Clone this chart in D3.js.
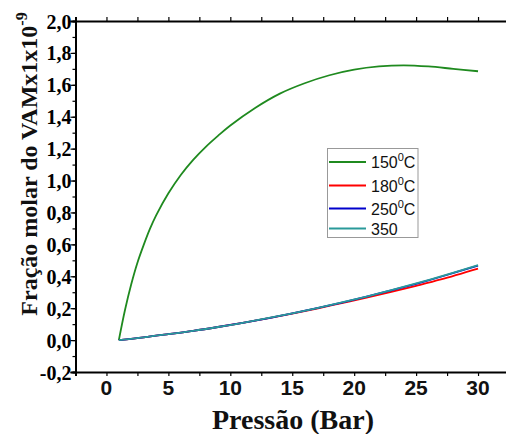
<!DOCTYPE html>
<html><head><meta charset="utf-8">
<script src="https://cdn.jsdelivr.net/npm/d3@7"></script>
<style>body{margin:0;background:#fff}</style>
</head><body>
<svg id="c" width="506" height="434"></svg>
<script>
const xTicks = [0, 5, 10, 15, 20, 25, 30];
const yTicks = [-0.2, 0.0, 0.2, 0.4, 0.6, 0.8, 1.0, 1.2, 1.4, 1.6, 1.8, 2.0];

const xGreen = [1, 1.5, 2, 2.5, 3, 3.5, 4, 5, 6, 7, 8, 9, 10, 12, 14, 16, 18, 20, 22, 24, 26, 28, 30];
const yGreen = [0, 0.19, 0.35, 0.485, 0.595, 0.695, 0.78, 0.92, 1.035, 1.13, 1.21, 1.28, 1.345, 1.455, 1.545, 1.61, 1.66, 1.695, 1.715, 1.722, 1.715, 1.70, 1.685];

const xLow = [1, 3, 5, 7, 9, 11, 13, 15, 17, 19, 21, 23, 25, 27, 30];
const yRed  = [0, 0.017, 0.037, 0.058, 0.082, 0.108, 0.136, 0.166, 0.198, 0.232, 0.266, 0.302, 0.340, 0.380, 0.448];
const yBlue = [0, 0.017, 0.037, 0.058, 0.082, 0.108, 0.136, 0.167, 0.200, 0.235, 0.272, 0.312, 0.353, 0.397, 0.467];
const yTeal = [0, 0.017, 0.037, 0.058, 0.082, 0.108, 0.137, 0.168, 0.201, 0.236, 0.273, 0.313, 0.355, 0.399, 0.470];

const seriesNames = ["150", "180", "250", "350"];
const seriesUnits = ["C", "C", "C", ""];
const colors = ["#1f8a1f", "#ff0000", "#0000cc", "#2a9a9a"];

const svg = d3.select("#c");
const x = d3.scaleLinear().domain([-2.5, 32.5]).range([75.5, 509]);
const y = d3.scaleLinear().domain([-0.2, 2.0]).range([372, 21]);

// lines
const line = d3.line().x(d => x(d[0])).y(d => y(d[1])).curve(d3.curveCatmullRom.alpha(0.5));
const series = [
  d3.zip(xGreen, yGreen),
  d3.zip(xLow, yRed),
  d3.zip(xLow, yBlue),
  d3.zip(xLow, yTeal)
];
series.forEach((s, i) => {
  svg.append("path").attr("d", line(s)).attr("fill", "none")
    .attr("stroke", colors[i]).attr("stroke-width", 1.8);
});

// axes
const xMinor = d3.range(-2.5, 32.6, 2.5);
const yMinor = d3.range(-0.2, 2.001, 0.1);

const gBottom = svg.append("g").attr("transform", `translate(0,${y(-0.2)})`)
  .call(d3.axisBottom(x).tickValues(xMinor).tickSize(4).tickFormat(""));
const gTop = svg.append("g").attr("transform", `translate(0,${y(2.0)})`)
  .call(d3.axisTop(x).tickValues(xMinor).tickSize(4).tickFormat(""));
const gLeft = svg.append("g").attr("transform", `translate(${x(-2.5)},0)`)
  .call(d3.axisLeft(y).tickValues(yMinor).tickSize(3).tickFormat(""));
const gLeftMaj = svg.append("g").attr("transform", `translate(${x(-2.5)},0)`)
  .call(d3.axisLeft(y).tickValues(yTicks).tickSize(5).tickFormat(d => d3.format(".1f")(d).replace(".", ",").replace("−", "-")));
[gBottom, gTop, gLeft, gLeftMaj].forEach(g => {
  g.selectAll(".domain").attr("stroke", "#000").attr("stroke-width", 2);
  g.selectAll(".tick line").attr("stroke", "#000").attr("stroke-width", 1.2);
});
gLeftMaj.selectAll(".tick text")
  .attr("font-family", "Liberation Serif, Times New Roman, serif")
  .attr("font-weight", "bold").attr("font-size", 20).attr("fill", "#000")
  .attr("x", -4).attr("dy", "0.35em");

// x tick labels
svg.append("g").selectAll("text").data(xTicks).join("text")
  .attr("x", d => x(d)).attr("y", 395)
  .attr("text-anchor", "middle")
  .attr("font-family", "Liberation Sans, Arial, sans-serif")
  .attr("font-weight", "bold").attr("font-size", 21).attr("fill", "#111")
  .text(d => d);

// axis titles
svg.append("text").attr("x", 293).attr("y", 429).attr("text-anchor", "middle")
  .attr("font-family", "Liberation Serif, Times New Roman, serif")
  .attr("font-weight", "bold").attr("font-size", 28).attr("fill", "#111")
  .text("Pressão (Bar)");

const yl = svg.append("text").attr("transform", "translate(37,164) rotate(-90)")
  .attr("text-anchor", "middle")
  .attr("font-family", "Liberation Serif, Times New Roman, serif")
  .attr("font-weight", "bold").attr("font-size", 24).attr("fill", "#111");
yl.append("tspan").text("Fração molar do VAMx1x10");
yl.append("tspan").attr("dy", -10).attr("font-size", 16).text("-9");

// legend
const lg = svg.append("g");
lg.append("rect").attr("x", 327.5).attr("y", 148.5).attr("width", 90.5).attr("height", 89)
  .attr("fill", "#fff").attr("stroke", "#999").attr("stroke-width", 1);
const rowsY = [162, 185.5, 208.5, 228.5];
seriesNames.forEach((n, i) => {
  lg.append("line").attr("x1", 329).attr("x2", 366).attr("y1", rowsY[i]).attr("y2", rowsY[i])
    .attr("stroke", colors[i]).attr("stroke-width", 1.8);
  const t = lg.append("text").attr("x", 371).attr("y", rowsY[i] + 6)
    .attr("font-family", "Liberation Sans, Arial, sans-serif")
    .attr("font-size", 16).attr("fill", "#111");
  t.append("tspan").text(n);
  if (seriesUnits[i]) {
    t.append("tspan").attr("dy", -7).attr("font-size", 11).text("0");
    t.append("tspan").attr("dy", 7).text(seriesUnits[i]);
  }
});
</script>
</body></html>
